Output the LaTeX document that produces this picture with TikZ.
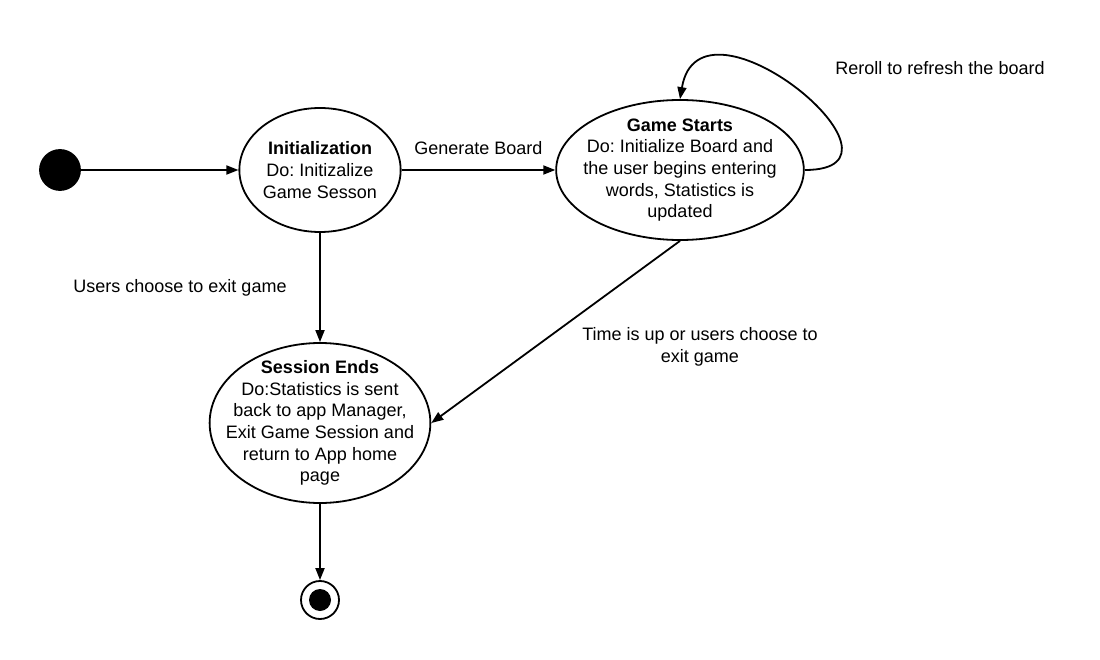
\documentclass[tikz,border=0pt]{standalone}
\usepackage{fontspec}
\setmainfont{Liberation Sans}
\frenchspacing
\usetikzlibrary{shapes.geometric,arrows.meta}
\begin{document}
\begin{tikzpicture}
        [x=1pt,y=-1pt,line width=1.8pt,
         state/.style={draw,ellipse,inner sep=0pt,align=center,font=\fontsize{18}{21.6}\selectfont},
         lbl/.style={align=center,font=\fontsize{18}{21.6}\selectfont},
         >={Triangle[length=12pt,width=9pt]}]
        \useasboundingbox (0,0) rectangle (1100,660);
        \node[draw,circle,fill=black,minimum size=40pt,inner sep=0pt] (start) at (60,170) {};
        \node[state,minimum width=160pt,minimum height=124pt] (init) at (320,170) {\textbf{Initialization}\\Do: Initizalize\\Game Sesson};
        \node[state,inner xsep=-9pt,inner ysep=-5pt,minimum width=245pt,minimum height=140pt] (game) at (680,170) {\textbf{Game Starts}\\Do: Initialize Board and\\the user begins entering\\words, Statistics is\\updated};
        \node[state,inner xsep=-16pt,inner ysep=-9pt,minimum width=220pt,minimum height=160pt] (ends) at (320,423) {\textbf{Session Ends}\\Do:Statistics is sent\\back to app Manager,\\Exit Game Session and\\return to App home\\page};
        \node[draw,circle,minimum size=38pt,inner sep=0pt] (stop) at (320,600) {};
        \node[circle,fill=black,minimum size=22pt,inner sep=0pt] (stopdot) at (stop) {};

        \draw[->] (start) -- (init);
        \draw[->] (init) -- (game) node[midway, above=11pt, lbl] {Generate Board};
        \draw[->] (game.east) .. controls (930,170) and (700,-20) .. (game.north);
        \draw[->] (init) -- (ends);
        \draw[->] (game.south) -- (ends.east);
        \draw[->] (ends) -- (stop);

        % free labels
        \node[lbl] (reroll) at (940,68) {Reroll to refresh the board};
        \node[lbl] (exitlbl) at (180,288) {Users choose to exit game};
        \node[lbl] (timelbl) at (700,347) {Time is up or users choose to\\exit game};
      \end{tikzpicture}
\end{document}
